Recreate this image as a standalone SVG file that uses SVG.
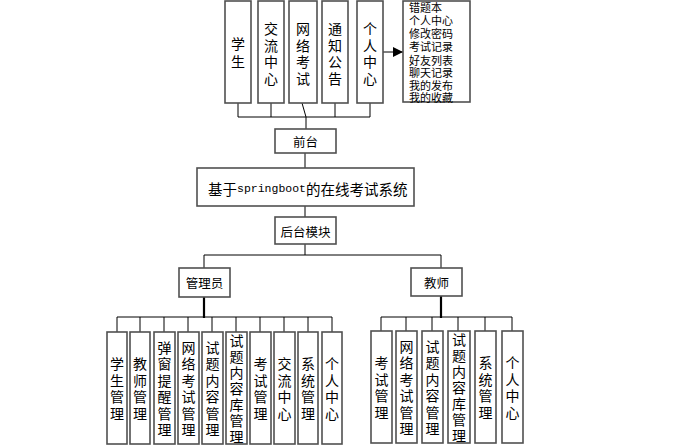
<svg xmlns="http://www.w3.org/2000/svg" width="675" height="447" viewBox="0 0 675 447">
<defs>
<style>
.box{fill:#fff;stroke:#505050;stroke-width:1.6}
.ln{fill:none;stroke:#000;stroke-width:1}
.thick{fill:none;stroke:#000;stroke-width:2.2}
text{font-family:"Noto Sans CJK SC","Liberation Sans",sans-serif;fill:#000;dominant-baseline:central;text-anchor:middle}
.v{font-size:14px}
.t{font-size:12.5px}
.lst{font-size:11px;text-anchor:start}
.ttl{font-size:14.5px;text-anchor:start}
.mono{font-family:"Liberation Mono",monospace;font-size:11.5px}
</style>
<marker id="arr" markerWidth="10" markerHeight="10" refX="10" refY="5" orient="auto" markerUnits="userSpaceOnUse">
<path d="M0,0 L10,5 L0,10 z" fill="#000"/>
</marker>
</defs>
<rect width="675" height="447" fill="#fff"/>
<g id="connectors">
<path class="ln" d="M238 103V117M271 103V117M302 103L306 117M335 103V117M370 103V117M238 117H370M306 117V129"/>
<path class="ln" d="M383 52H403" marker-end="url(#arr)"/>
<path class="ln" d="M305 153V168M305 206V217M305 244V255M204 255H441M204 255V268M441 255V268"/>
<path class="thick" d="M204 297V318M441 296V318"/>
<path class="ln" d="M117 317H332M117 317V332M140 317V332M164 317V332M188 317V332M212 317V332M236 317V332M260 317V332M284 317V332M308 317V332M332 317V332"/>
<path class="ln" d="M381 317H512M381 317V331M406 317V331M432 317V331M458 317V331M485 317V331M512 317V331"/>
</g>
<g id="n-student"><rect class="box" x="225" y="1" width="26" height="102"/><text class="v"><tspan x="238" y="43">学</tspan><tspan x="238" y="61">生</tspan></text></g>
<g id="n-exchange"><rect class="box" x="258" y="1" width="26" height="102"/><text class="v"><tspan x="271" y="28">交</tspan><tspan x="271" y="44.5">流</tspan><tspan x="271" y="61">中</tspan><tspan x="271" y="77.5">心</tspan></text></g>
<g id="n-netexam"><rect class="box" x="289" y="1" width="28" height="102"/><text class="v"><tspan x="303" y="28">网</tspan><tspan x="303" y="44.5">络</tspan><tspan x="303" y="61">考</tspan><tspan x="303" y="77.5">试</tspan></text></g>
<g id="n-notice"><rect class="box" x="322" y="1" width="26" height="102"/><text class="v"><tspan x="335" y="28">通</tspan><tspan x="335" y="44.5">知</tspan><tspan x="335" y="61">公</tspan><tspan x="335" y="77.5">告</tspan></text></g>
<g id="n-personal"><rect class="box" x="357" y="1" width="26" height="102"/><text class="v"><tspan x="370" y="28">个</tspan><tspan x="370" y="44.5">人</tspan><tspan x="370" y="61">中</tspan><tspan x="370" y="77.5">心</tspan></text></g>
<g id="n-list"><rect class="box" x="403" y="1" width="67" height="101"/><text class="lst"><tspan x="409" y="7">错题本</tspan><tspan x="409" y="20">个人中心</tspan><tspan x="409" y="33">修改密码</tspan><tspan x="409" y="46">考试记录</tspan><tspan x="409" y="59.5">好友列表</tspan><tspan x="409" y="72">聊天记录</tspan><tspan x="409" y="85">我的发布</tspan><tspan x="409" y="97">我的收藏</tspan></text></g>
<g id="n-front"><rect class="box" x="275" y="129" width="61" height="24"/><text class="t" x="305.5" y="141.5">前台</text></g>
<g id="n-main"><rect class="box" x="197" y="168" width="217" height="38"/><text class="ttl" x="208" y="188">基于<tspan class="mono">springboot</tspan>的在线考试系统</text></g>
<g id="n-back"><rect class="box" x="275" y="217" width="61" height="27"/><text class="t" x="305.5" y="231" font-size="13">后台模块</text></g>
<g id="n-admin"><rect class="box" x="179" y="268" width="51" height="29"/><text class="t" x="204.5" y="282.5">管理员</text></g>
<g id="n-teacher"><rect class="box" x="411" y="268" width="51" height="28"/><text class="t" x="436.5" y="282">教师</text></g>
<g id="a1"><rect class="box" x="107" y="332" width="20" height="112"/><text class="v"><tspan x="117" y="363">学</tspan><tspan x="117" y="379.5">生</tspan><tspan x="117" y="396">管</tspan><tspan x="117" y="412.5">理</tspan></text></g>
<g id="a2"><rect class="box" x="130" y="332" width="20" height="112"/><text class="v"><tspan x="140" y="363">教</tspan><tspan x="140" y="379.5">师</tspan><tspan x="140" y="396">管</tspan><tspan x="140" y="412.5">理</tspan></text></g>
<g id="a3"><rect class="box" x="154" y="332" width="21" height="112"/><text class="v"><tspan x="164.5" y="346.5">弹</tspan><tspan x="164.5" y="363">窗</tspan><tspan x="164.5" y="379.5">提</tspan><tspan x="164.5" y="396">醒</tspan><tspan x="164.5" y="412.5">管</tspan><tspan x="164.5" y="429">理</tspan></text></g>
<g id="a4"><rect class="box" x="178" y="332" width="21" height="112"/><text class="v"><tspan x="188.5" y="346.5">网</tspan><tspan x="188.5" y="363">络</tspan><tspan x="188.5" y="379.5">考</tspan><tspan x="188.5" y="396">试</tspan><tspan x="188.5" y="412.5">管</tspan><tspan x="188.5" y="429">理</tspan></text></g>
<g id="a5"><rect class="box" x="202" y="332" width="21" height="112"/><text class="v"><tspan x="212.5" y="346.5">试</tspan><tspan x="212.5" y="363">题</tspan><tspan x="212.5" y="379.5">内</tspan><tspan x="212.5" y="396">容</tspan><tspan x="212.5" y="412.5">管</tspan><tspan x="212.5" y="429">理</tspan></text></g>
<g id="a6"><rect class="box" x="226" y="332" width="21" height="112"/><text class="v"><tspan x="236.5" y="340">试</tspan><tspan x="236.5" y="356">题</tspan><tspan x="236.5" y="372">内</tspan><tspan x="236.5" y="388">容</tspan><tspan x="236.5" y="404">库</tspan><tspan x="236.5" y="420">管</tspan><tspan x="236.5" y="436">理</tspan></text></g>
<g id="a7"><rect class="box" x="250" y="332" width="21" height="112"/><text class="v"><tspan x="260.5" y="363">考</tspan><tspan x="260.5" y="379.5">试</tspan><tspan x="260.5" y="396">管</tspan><tspan x="260.5" y="412.5">理</tspan></text></g>
<g id="a8"><rect class="box" x="274" y="332" width="21" height="112"/><text class="v"><tspan x="284.5" y="363">交</tspan><tspan x="284.5" y="379.5">流</tspan><tspan x="284.5" y="396">中</tspan><tspan x="284.5" y="412.5">心</tspan></text></g>
<g id="a9"><rect class="box" x="298" y="332" width="20" height="112"/><text class="v"><tspan x="308" y="363">系</tspan><tspan x="308" y="379.5">统</tspan><tspan x="308" y="396">管</tspan><tspan x="308" y="412.5">理</tspan></text></g>
<g id="a10"><rect class="box" x="322" y="332" width="20" height="112"/><text class="v"><tspan x="332" y="363">个</tspan><tspan x="332" y="379.5">人</tspan><tspan x="332" y="396">中</tspan><tspan x="332" y="412.5">心</tspan></text></g>
<g id="t1"><rect class="box" x="371" y="331" width="21" height="112"/><text class="v"><tspan x="381.5" y="362">考</tspan><tspan x="381.5" y="378.5">试</tspan><tspan x="381.5" y="395">管</tspan><tspan x="381.5" y="411.5">理</tspan></text></g>
<g id="t2"><rect class="box" x="396" y="331" width="21" height="112"/><text class="v"><tspan x="406.5" y="345.5">网</tspan><tspan x="406.5" y="362">络</tspan><tspan x="406.5" y="378.5">考</tspan><tspan x="406.5" y="395">试</tspan><tspan x="406.5" y="411.5">管</tspan><tspan x="406.5" y="428">理</tspan></text></g>
<g id="t3"><rect class="box" x="422" y="331" width="21" height="112"/><text class="v"><tspan x="432.5" y="345.5">试</tspan><tspan x="432.5" y="362">题</tspan><tspan x="432.5" y="378.5">内</tspan><tspan x="432.5" y="395">容</tspan><tspan x="432.5" y="411.5">管</tspan><tspan x="432.5" y="428">理</tspan></text></g>
<g id="t4"><rect class="box" x="448" y="331" width="22" height="112"/><text class="v"><tspan x="459" y="339">试</tspan><tspan x="459" y="355">题</tspan><tspan x="459" y="371">内</tspan><tspan x="459" y="387">容</tspan><tspan x="459" y="403">库</tspan><tspan x="459" y="419">管</tspan><tspan x="459" y="435">理</tspan></text></g>
<g id="t5"><rect class="box" x="475" y="331" width="21" height="112"/><text class="v"><tspan x="485.5" y="362">系</tspan><tspan x="485.5" y="378.5">统</tspan><tspan x="485.5" y="395">管</tspan><tspan x="485.5" y="411.5">理</tspan></text></g>
<g id="t6"><rect class="box" x="502" y="331" width="21" height="112"/><text class="v"><tspan x="512.5" y="362">个</tspan><tspan x="512.5" y="378.5">人</tspan><tspan x="512.5" y="395">中</tspan><tspan x="512.5" y="411.5">心</tspan></text></g>
</svg>
